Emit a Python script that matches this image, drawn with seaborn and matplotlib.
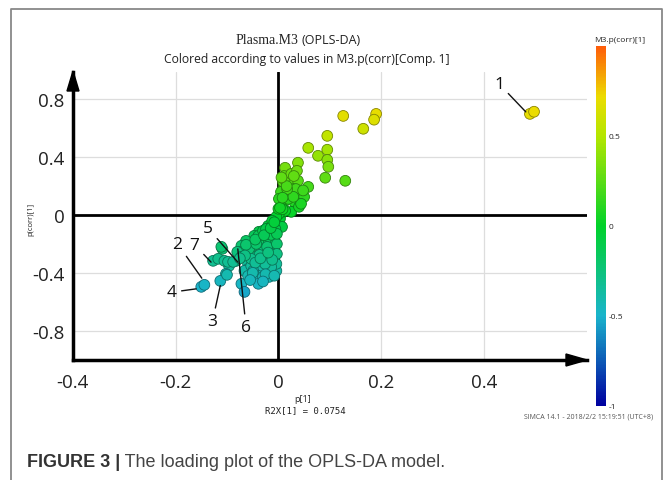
import matplotlib
matplotlib.use("Agg")
import numpy as np
import pandas as pd
import seaborn as sns
import matplotlib.pyplot as plt
from matplotlib.colors import LinearSegmentedColormap, Normalize
from matplotlib.patches import Polygon
from matplotlib.lines import Line2D
from matplotlib.ticker import MultipleLocator

# ---------------- data ----------------
p1 = [0.489, 0.497, 0.126, 0.190, 0.186, 0.165, 0.095, 0.058, 0.095, 0.077,
      0.095, 0.097, 0.038, 0.091, 0.130, 0.013, 0.011, 0.021, 0.038, 0.058,
      0.044, 0.050, 0.029, 0.011, 0.015, 0.031, 0.009, 0.005, 0.025, 0.040,
      -0.004, 0.021, 0.009, 0.005, 0.005, 0.011, 0.025, 0.034, 0.044, 0.019,
      0.001, 0.003, 0.013, 0.029, 0.036, 0.007, 0.001, -0.020, -0.038, -0.047,
      -0.063, -0.072, -0.078, -0.082, -0.067, -0.049, -0.030, -0.010, -0.010, -0.030,
      -0.047, -0.059, -0.059, -0.038, -0.018, -0.008, -0.034, -0.018, -0.018, -0.039,
      -0.004, -0.004, -0.006, -0.018, -0.024, -0.039, -0.057, -0.096, -0.102, -0.072,
      -0.039, -0.066, -0.113, -0.100, -0.150, -0.144, -0.127, -0.117, -0.105, -0.098,
      -0.088, -0.109, -0.080, -0.111, -0.063, -0.039, -0.004, -0.066, -0.059, -0.014,
      -0.053, -0.030, -0.014, -0.043, -0.022, -0.037, -0.053, -0.026, -0.014, -0.003,
      -0.003, -0.003, -0.030, -0.049, -0.072, -0.012, -0.024, 0.000, 0.017, 0.008,
      -0.045, -0.025, -0.050, -0.008, -0.012, -0.035, -0.065, -0.075, -0.020, -0.045,
      -0.028, -0.015, -0.008, 0.003, 0.008, 0.016, 0.006, 0.030, 0.048, -0.055,
      -0.030]
pcorr = [0.700, 0.715, 0.686, 0.700, 0.660, 0.597, 0.548, 0.465, 0.452, 0.410,
         0.382, 0.334, 0.362, 0.258, 0.237, 0.327, 0.270, 0.237, 0.237, 0.195,
         0.147, 0.126, 0.180, 0.195, 0.133, 0.091, 0.078, 0.008, 0.022, 0.057,
         -0.061, 0.147, 0.230, 0.064, 0.160, 0.250, 0.285, 0.180, 0.078, 0.112,
         0.112, -0.026, 0.029, 0.126, 0.306, -0.082, 0.008, -0.075, -0.116, -0.144,
         -0.179, -0.213, -0.255, -0.317, -0.248, -0.213, -0.186, -0.165, -0.234, -0.255,
         -0.289, -0.338, -0.373, -0.352, -0.317, -0.283, -0.386, -0.386, -0.428, -0.421,
         -0.386, -0.338, -0.096, -0.116, -0.165, -0.179, -0.234, -0.352, -0.407, -0.476,
         -0.476, -0.532, -0.456, -0.414, -0.497, -0.483, -0.317, -0.303, -0.317, -0.324,
         -0.324, -0.234, -0.255, -0.220, -0.206, -0.144, -0.012, -0.386, -0.421, -0.359,
         -0.352, -0.109, -0.137, -0.200, -0.220, -0.276, -0.303, -0.338, -0.269, -0.200,
         -0.130, -0.269, -0.428, -0.386, -0.289, -0.040, -0.096, 0.043, 0.180, 0.040,
         -0.330, -0.410, -0.400, -0.420, -0.310, -0.300, -0.280, -0.300, -0.260, -0.170,
         -0.140, -0.090, -0.050, 0.050, 0.120, 0.200, 0.260, 0.270, 0.170, -0.450,
         -0.460]

# labelled variables: id, end of leader line (x, y), text position (x, y)
lab_ids = ["1", "2", "4", "7", "5", "3", "6"]
lab_end_x = [0.481, -0.149, -0.160, -0.131, -0.079, -0.113, -0.079]
lab_end_y = [0.714, -0.437, -0.511, -0.326, -0.326, -0.488, -0.234]
lab_txt_x = [0.429, -0.196, -0.207, -0.163, -0.137, -0.128, -0.063]
lab_txt_y = [0.908, -0.200, -0.534, -0.206, -0.091, -0.731, -0.772]

x_ticks = [-0.4, -0.2, 0, 0.2, 0.4]
x_ticklabels = ["-0.4", "-0.2", "0", "0.2", "0.4"]
y_ticks = [-0.8, -0.4, 0, 0.4, 0.8]
y_ticklabels = ["-0.8", "-0.4", "0", "0.4", "0.8"]
cbar_ticks = [-1, -0.5, 0, 0.5]
cbar_ticklabels = ["-1", "-0.5", "0", "0.5"]

df = pd.DataFrame({"p1": p1, "pcorr": pcorr})

# ---------------- style ----------------
sns.set_style("white")
plt.rcParams["font.family"] = ["Open Sans", "DejaVu Sans"]

W, H = 665, 481
fig = plt.figure(figsize=(W / 100, H / 100), dpi=100)
fig.patch.set_facecolor("white")

def fx(px):
    return px / W

def fy(py):
    return 1 - py / H

ax_l, ax_r, ax_t, ax_b = 72.7, 587, 73, 360.5
ax = fig.add_axes([fx(ax_l), fy(ax_b), fx(ax_r - ax_l), (ax_b - ax_t) / H])

cmap = LinearSegmentedColormap.from_list(
    "simca",
    [(0.0, "#0000a0"), (0.25, "#1ab4cc"), (0.5, "#00d22a"),
     (0.75, "#b4e600"), (0.86, "#ecdc00"), (1.0, "#ff5c0a")])
norm = Normalize(-1, 1)

ax.set_xlim(-0.4, 0.6)
ax.set_ylim(-1.0, 0.99)

# grid, zero lines
for v in [-0.2, 0.2, 0.4]:
    ax.axvline(v, color="#dddddd", lw=0.9, zorder=0)
for v in [-0.8, -0.4, 0.4, 0.8]:
    ax.axhline(v, color="#dddddd", lw=0.9, zorder=0)
ax.axhline(0, color="black", lw=2.0, zorder=1)
ax.axvline(0, color="black", lw=2.0, zorder=1)

sns.scatterplot(data=df, x="p1", y="pcorr", hue="pcorr", palette=cmap,
                hue_norm=norm, s=60, legend=False, ax=ax, zorder=3,
                linewidth=0.6)
coll = ax.collections[-1]
fc = cmap(norm(np.asarray(pcorr)))
ec = fc.copy()
ec[:, :3] = ec[:, :3] * 0.6
coll.set_facecolor(fc)
coll.set_edgecolor(ec)

for lid, ex, ey, tx, ty in zip(lab_ids, lab_end_x, lab_end_y, lab_txt_x, lab_txt_y):
    ax.annotate(lid, xy=(ex, ey), xytext=(tx, ty), fontsize=12.5,
                ha="center", va="center", color="#111111", zorder=5,
                arrowprops=dict(arrowstyle="-", color="#111111", lw=1.0,
                                shrinkA=1, shrinkB=0))

# spines & ticks
for s in ["top", "right"]:
    ax.spines[s].set_visible(False)
for s in ["left", "bottom"]:
    ax.spines[s].set_visible(True)
    ax.spines[s].set_color("black")
    ax.spines[s].set_linewidth(2.5)
ax.set_xticks(x_ticks)
ax.set_xticklabels(x_ticklabels)
ax.set_yticks(y_ticks)
ax.set_yticklabels(y_ticklabels)
ax.xaxis.set_minor_locator(MultipleLocator(0.1))
ax.yaxis.set_minor_locator(MultipleLocator(0.2))
ax.tick_params(axis="both", which="major", direction="in", length=5, width=1.6,
               labelsize=13.5, colors="black", labelcolor="#222222")
ax.tick_params(axis="x", which="major", pad=10)
ax.tick_params(axis="y", which="major", pad=6)
ax.tick_params(axis="both", which="minor", direction="in", length=4, width=1.6)
ax.set_xlabel("")
ax.set_ylabel("")

# arrow heads on the axes
fig.add_artist(Polygon([(fx(587), fy(361)), (fx(566), fy(355)), (fx(566), fy(367))],
                       closed=True, color="black", transform=fig.transFigure))
fig.add_artist(Polygon([(fx(73), fy(72)), (fx(67), fy(92)), (fx(79), fy(92))],
                       closed=True, color="black", transform=fig.transFigure))

# titles
fig.text(fx(298), fy(41), "Plasma.M3", family="Liberation Serif", fontsize=10,
         ha="right", va="center", color="#222222")
fig.text(fx(302), fy(41), "(OPLS-DA)", fontsize=9, ha="left", va="center",
         color="#222222")
fig.text(fx(307), fy(59), "Colored according to values in M3.p(corr)[Comp. 1]",
         fontsize=8.7, ha="center", va="center", color="#222222")

# axis labels
fig.text(fx(31), fy(219), "p(corr)[1]", fontsize=5.5, rotation=90,
         ha="center", va="center", color="#222222")
fig.text(fx(303), fy(400), "p[1]", fontsize=6.5, ha="center", va="center",
         color="#222222")
fig.text(fx(305), fy(411), "R2X[1] = 0.0754", family="DejaVu Sans Mono",
         fontsize=6.5, ha="center", va="center", color="#222222")

# colorbar
cax = fig.add_axes([fx(596), fy(407), fx(10), (407 - 47) / H])
sm = matplotlib.cm.ScalarMappable(norm=norm, cmap=cmap)
cb = fig.colorbar(sm, cax=cax)
cb.outline.set_visible(False)
cb.set_ticks(cbar_ticks)
cb.set_ticklabels(cbar_ticklabels)
cax.tick_params(length=0, labelsize=6, pad=2, labelcolor="#222222")
fig.text(fx(620), fy(40), "M3.p(corr)[1]", fontsize=6, ha="center",
         va="center", color="#222222")
fig.text(fx(653), fy(417), "SIMCA 14.1 - 2018/2/2 15:19:51 (UTC+8)", fontsize=5,
         ha="right", va="center", color="#555555")

# frame
fig.add_artist(Line2D([fx(11), fx(11), fx(662), fx(662)],
                      [fy(481), fy(10), fy(10), fy(481)],
                      color="#888888", lw=1.3, transform=fig.transFigure))

# caption
t1 = fig.text(fx(27), fy(463), "FIGURE 3 |", family="Liberation Sans",
              fontweight="bold", fontsize=13, ha="left", va="center",
              color="#333333")
fig.add_artist(matplotlib.text.Annotation(
    " The loading plot of the OPLS-DA model.", xy=(1, 0.5), xycoords=t1,
    xytext=(0, 0), textcoords="offset points", va="center", ha="left",
    family="Liberation Sans", fontsize=13, color="#444444"))

fig.savefig("out.png", dpi=100)
